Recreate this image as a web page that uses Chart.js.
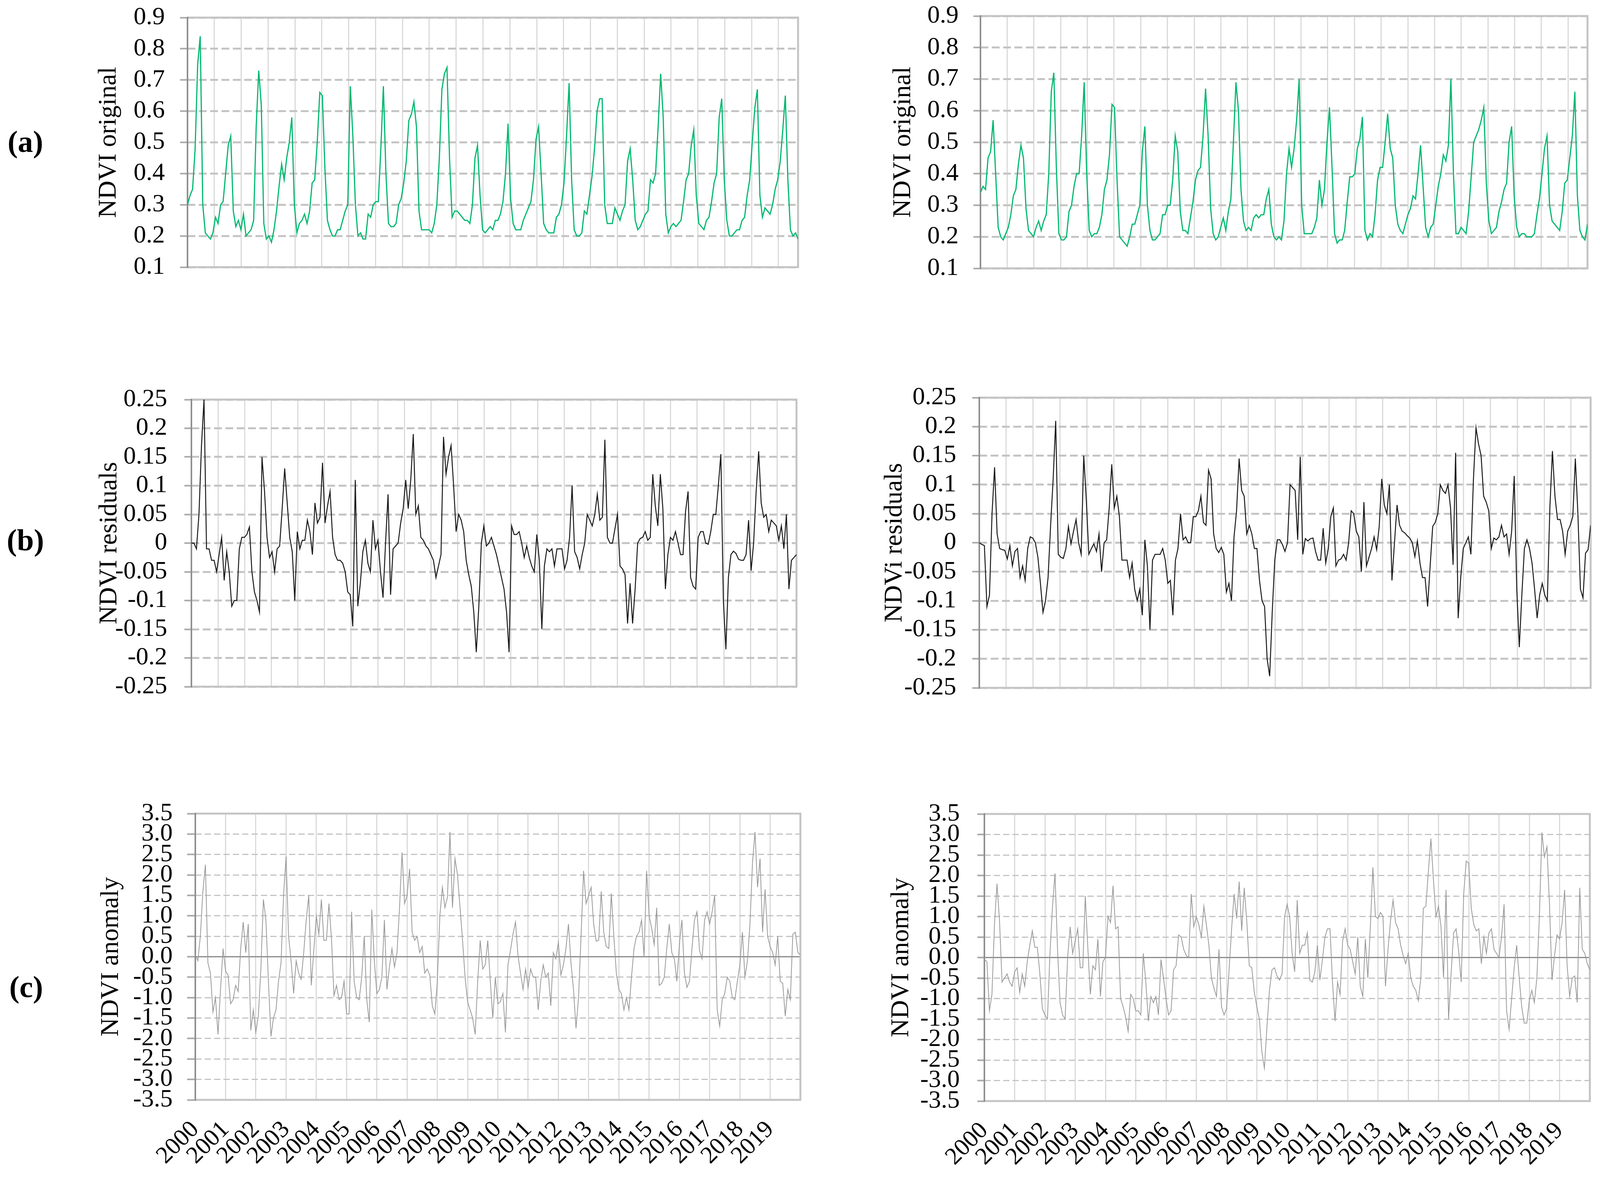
<!DOCTYPE html>
<html>
<head>
<meta charset="utf-8">
<script src="https://cdn.jsdelivr.net/npm/chart.js@4.4.1/dist/chart.umd.min.js"></script>
<style>
  body { margin: 0; background: #fff; width: 4142px; height: 3016px; position: relative; overflow: hidden; }
  canvas { position: absolute; }
  .tag { position: absolute; font: bold 78px "Liberation Serif", serif; color: #000; transform: translate(-50%, -50%); }
</style>
</head>
<body>
<script>
// monthly samples, Jan 2000 .. Dec 2019, plus the closing value at the right edge
var ndviOrigLeft = [
  0.30, 0.33, 0.35, 0.48, 0.75, 0.84, 0.30, 0.21, 0.20, 0.19, 0.21, 0.26,
  0.24, 0.30, 0.31, 0.40, 0.49, 0.52, 0.28, 0.23, 0.25, 0.22, 0.27, 0.20,
  0.21, 0.22, 0.25, 0.55, 0.73, 0.62, 0.24, 0.19, 0.20, 0.18, 0.22, 0.28,
  0.36, 0.43, 0.38, 0.45, 0.50, 0.58, 0.30, 0.21, 0.24, 0.25, 0.27, 0.24,
  0.28, 0.37, 0.38, 0.50, 0.66, 0.65, 0.42, 0.25, 0.22, 0.20, 0.20, 0.22,
  0.22, 0.25, 0.28, 0.30, 0.68, 0.52, 0.30, 0.20, 0.21, 0.19, 0.19, 0.27,
  0.26, 0.30, 0.31, 0.31, 0.48, 0.68, 0.40, 0.24, 0.23, 0.23, 0.24, 0.30,
  0.32, 0.37, 0.44, 0.57, 0.59, 0.63, 0.55, 0.28, 0.22, 0.22, 0.22, 0.22,
  0.21, 0.24, 0.30, 0.45, 0.67, 0.72, 0.74, 0.45, 0.26, 0.28, 0.28, 0.27,
  0.26, 0.25, 0.25, 0.24, 0.30, 0.45, 0.49, 0.33, 0.22, 0.21, 0.22, 0.23,
  0.22, 0.25, 0.25, 0.27, 0.31, 0.40, 0.56, 0.32, 0.24, 0.22, 0.22, 0.22,
  0.25, 0.27, 0.29, 0.31, 0.38, 0.51, 0.55, 0.40, 0.24, 0.22, 0.21, 0.21,
  0.21, 0.26, 0.27, 0.30, 0.37, 0.52, 0.69, 0.38, 0.22, 0.20, 0.20, 0.21,
  0.28, 0.27, 0.33, 0.39, 0.48, 0.60, 0.64, 0.64, 0.30, 0.24, 0.24, 0.24,
  0.29, 0.27, 0.25, 0.28, 0.30, 0.44, 0.48, 0.38, 0.25, 0.22, 0.23, 0.25,
  0.27, 0.28, 0.38, 0.37, 0.40, 0.55, 0.72, 0.58, 0.27, 0.21, 0.23, 0.24,
  0.23, 0.24, 0.25, 0.31, 0.38, 0.40, 0.49, 0.54, 0.33, 0.24, 0.23, 0.22,
  0.25, 0.26, 0.31, 0.37, 0.40, 0.58, 0.64, 0.38, 0.25, 0.20, 0.20, 0.21,
  0.22, 0.22, 0.25, 0.26, 0.33, 0.38, 0.50, 0.61, 0.67, 0.33, 0.26, 0.29,
  0.28, 0.27, 0.30, 0.35, 0.38, 0.44, 0.54, 0.65, 0.38, 0.22, 0.20, 0.21,
  0.19
];
var ndviOrigRight = [
  0.34, 0.36, 0.35, 0.45, 0.47, 0.57, 0.40, 0.23, 0.20, 0.19, 0.21, 0.23,
  0.27, 0.33, 0.35, 0.43, 0.49, 0.45, 0.29, 0.22, 0.21, 0.20, 0.23, 0.25,
  0.22, 0.25, 0.27, 0.40, 0.66, 0.72, 0.42, 0.21, 0.19, 0.19, 0.20, 0.28,
  0.30, 0.36, 0.40, 0.40, 0.52, 0.69, 0.40, 0.22, 0.20, 0.21, 0.21, 0.23,
  0.27, 0.35, 0.38, 0.46, 0.62, 0.61, 0.38, 0.20, 0.19, 0.18, 0.17, 0.20,
  0.24, 0.24, 0.27, 0.30, 0.47, 0.55, 0.30, 0.22, 0.19, 0.19, 0.20, 0.21,
  0.27, 0.27, 0.30, 0.30, 0.38, 0.52, 0.47, 0.28, 0.22, 0.22, 0.21, 0.26,
  0.31, 0.38, 0.41, 0.42, 0.52, 0.67, 0.52, 0.29, 0.21, 0.19, 0.20, 0.23,
  0.26, 0.22, 0.28, 0.32, 0.50, 0.69, 0.60, 0.35, 0.25, 0.22, 0.23, 0.22,
  0.26, 0.27, 0.26, 0.27, 0.27, 0.32, 0.35, 0.24, 0.20, 0.19, 0.20, 0.19,
  0.25, 0.40, 0.48, 0.42, 0.48, 0.57, 0.70, 0.30, 0.21, 0.21, 0.21, 0.21,
  0.23, 0.26, 0.38, 0.30, 0.35, 0.50, 0.61, 0.42, 0.21, 0.18, 0.19, 0.19,
  0.22, 0.31, 0.39, 0.39, 0.40, 0.48, 0.51, 0.58, 0.22, 0.19, 0.21, 0.20,
  0.27, 0.38, 0.42, 0.42, 0.50, 0.59, 0.48, 0.45, 0.30, 0.24, 0.22, 0.21,
  0.24, 0.27, 0.29, 0.33, 0.32, 0.40, 0.49, 0.36, 0.23, 0.20, 0.23, 0.24,
  0.30, 0.36, 0.40, 0.46, 0.44, 0.49, 0.70, 0.40, 0.21, 0.21, 0.23, 0.22,
  0.21, 0.28, 0.39, 0.50, 0.52, 0.54, 0.57, 0.61, 0.37, 0.25, 0.21, 0.22,
  0.23, 0.28, 0.31, 0.35, 0.37, 0.50, 0.55, 0.33, 0.23, 0.20, 0.21, 0.21,
  0.20, 0.20, 0.20, 0.21, 0.27, 0.32, 0.40, 0.48, 0.52, 0.30, 0.25, 0.24,
  0.23, 0.22, 0.28, 0.37, 0.38, 0.45, 0.52, 0.66, 0.33, 0.22, 0.20, 0.19,
  0.24
];
var ndviResLeft = [
  0.0, 0.0, -0.01, 0.05, 0.17, 0.25, -0.01, -0.01, -0.03, -0.03, -0.05, -0.02,
  0.01, -0.065, -0.015, -0.05, -0.11, -0.10, -0.10, -0.01, 0.01, 0.01, 0.015, 0.028,
  -0.05, -0.085, -0.10, -0.12, 0.15, 0.09, 0.01, -0.025, -0.015, -0.05, -0.01, -0.005,
  0.06, 0.13, 0.07, 0.01, -0.015, -0.10, 0.02, -0.01, 0.005, 0.005, 0.04, 0.02,
  -0.02, 0.07, 0.035, 0.045, 0.14, 0.035, 0.065, 0.09, 0.01, -0.02, -0.03, -0.03,
  -0.035, -0.05, -0.085, -0.09, -0.145, 0.11, -0.11, -0.07, -0.015, 0.005, -0.035, -0.05,
  0.04, -0.01, 0.005, -0.05, -0.095, 0.0, 0.085, -0.09, -0.01, -0.005, 0.0, 0.035,
  0.06, 0.11, 0.06, 0.11, 0.19, 0.05, 0.065, 0.01, 0.005, -0.005, -0.01, -0.02,
  -0.03, -0.06, -0.04, -0.02, 0.185, 0.12, 0.15, 0.17, 0.10, 0.02, 0.05, 0.04,
  0.02, -0.03, -0.055, -0.075, -0.12, -0.19, -0.11, 0.0, 0.03, -0.005, 0.0, 0.01,
  -0.005, -0.02, -0.04, -0.06, -0.08, -0.12, -0.19, 0.03, 0.015, 0.015, 0.02, 0.0,
  -0.025, -0.005, -0.025, -0.04, -0.05, 0.015, -0.03, -0.15, -0.04, -0.01, -0.015, -0.01,
  -0.04, -0.01, -0.01, -0.01, -0.045, -0.03, 0.01, 0.10, -0.015, -0.025, -0.045, -0.02,
  0.0, 0.05, 0.04, 0.03, 0.05, 0.085, 0.04, 0.045, 0.18, 0.01, 0.0, 0.0,
  0.025, 0.05, -0.04, -0.045, -0.055, -0.14, -0.07, -0.14, -0.08, 0.0, 0.008, 0.01,
  0.02, 0.005, 0.01, 0.12, 0.065, 0.03, 0.12, 0.06, -0.08, -0.02, 0.01, 0.005,
  0.02, 0.0, -0.02, -0.02, 0.055, 0.09, -0.06, -0.075, -0.08, 0.01, 0.02, 0.02,
  0.0, -0.002, 0.02, 0.05, 0.05, 0.10, 0.155, -0.10, -0.185, -0.06, -0.02, -0.014,
  -0.018, -0.028, -0.03, -0.03, -0.02, 0.04, -0.048, 0.0, 0.09, 0.16, 0.07, 0.045,
  0.05, 0.02, 0.04, 0.035, 0.03, 0.005, 0.03, -0.01, 0.05, -0.08, -0.03, -0.025,
  -0.02
];
var ndviResRight = [
  0.0, -0.003, -0.005, -0.11, -0.09, 0.05, 0.13, 0.015, -0.01, -0.012, -0.013, -0.028,
  -0.005, -0.04, -0.015, -0.01, -0.06, -0.04, -0.065, -0.01, 0.01, 0.008, 0.0, -0.025,
  -0.07, -0.12, -0.10, -0.06, 0.03, 0.11, 0.21, -0.02, -0.025, -0.027, -0.01, 0.028,
  -0.002, 0.02, 0.04, 0.0, -0.02, 0.15, 0.075, -0.02, -0.01, -0.002, -0.015, 0.015,
  -0.05, 0.0, 0.005, 0.06, 0.135, 0.06, 0.08, 0.045, -0.03, -0.03, -0.03, -0.06,
  -0.035, -0.08, -0.10, -0.08, -0.125, 0.005, -0.04, -0.15, -0.03, -0.02, -0.02, -0.02,
  -0.01, -0.03, -0.07, -0.065, -0.125, -0.03, -0.01, 0.05, 0.005, 0.01, 0.0, 0.0,
  0.045, 0.045, 0.055, 0.08, 0.035, 0.03, 0.125, 0.11, 0.015, -0.01, -0.017, -0.008,
  -0.02, -0.085, -0.07, -0.10, 0.01, 0.055, 0.145, 0.09, 0.08, 0.015, 0.03, 0.015,
  -0.01, -0.01, -0.065, -0.10, -0.11, -0.20, -0.23, -0.12, -0.03, 0.005, 0.005, -0.003,
  -0.015, 0.0, 0.10, 0.095, 0.09, 0.005, 0.148, -0.02, 0.007, 0.003, 0.007, 0.008,
  -0.015, -0.03, -0.03, 0.025, -0.035, -0.01, 0.045, 0.06, -0.04, -0.03, -0.028, -0.02,
  -0.03, 0.0, 0.055, 0.05, 0.02, 0.01, -0.05, 0.07, -0.04, -0.025, -0.01, 0.01,
  -0.012, 0.028, 0.11, 0.065, 0.05, 0.10, -0.065, 0.0, 0.065, 0.03, 0.02, 0.017,
  0.012, 0.008, 0.0, -0.024, 0.003, -0.035, -0.06, -0.06, -0.11, -0.04, 0.028, 0.035,
  0.05, 0.10, 0.09, 0.085, 0.10, 0.06, -0.038, 0.155, -0.13, -0.06, -0.01, 0.0,
  0.01, -0.02, 0.11, 0.198, 0.17, 0.15, 0.08, 0.07, 0.055, -0.01, 0.008, 0.005,
  0.01, 0.03, 0.01, 0.015, -0.02, 0.02, 0.115, -0.08, -0.18, -0.09, -0.01, 0.005,
  -0.01, -0.035, -0.08, -0.13, -0.09, -0.07, -0.09, -0.10, 0.06, 0.158, 0.08, 0.04,
  0.04, 0.02, -0.02, 0.02, 0.03, 0.045, 0.145, 0.05, -0.08, -0.095, -0.018, -0.012,
  0.03
];
var ndviAnomLeft = [
  0.05, -0.1, 0.5, 1.6, 2.25, -0.15, -0.4, -1.35, -1.0, -1.9, -0.8, 0.2,
  -0.35, -0.45, -1.15, -1.05, -0.7, -0.85, 0.2, 0.85, 0.1, 0.8, -1.8, -1.3,
  -1.85, -1.45, -0.3, 1.4, 0.9, -0.6, -1.95, -1.5, -1.3, -0.6, -0.15, 1.5,
  2.45, 0.5, -0.1, -0.9, -0.1, -0.4, -0.55, 0.1, 0.9, 1.5, -0.7, 0.15,
  1.0, 0.55, 1.4, 0.4, 0.4, 1.3, 0.45, -0.95, -0.7, -1.05, -1.0, -0.6,
  -1.4, -1.4, 1.1, -0.6, -1.0, -1.05, -0.5, 0.5, -1.05, -1.6, 1.15, -0.1,
  -0.9, -0.8, -0.5, 0.9, -0.8, -0.25, 0.2, -0.25, 0.1, 1.2, 2.55, 1.3,
  1.5, 2.15, 0.6, 0.4, 0.5, 0.1, 0.25, -0.4, -0.3, -0.45, -1.2, -1.4,
  -0.6, 1.0, 1.7, 1.2, 1.45, 3.05, 1.2, 2.4, 2.0, 1.2, 0.4, -0.5,
  -1.1, -1.3, -1.5, -1.9, -0.6, 0.4, -0.3, -0.2, 0.4, -0.6, -1.5, -0.5,
  -1.15, -1.1, -0.9, -1.85, -0.2, 0.15, 0.55, 0.85, 0.02, -0.4, -0.8, -0.3,
  -0.75, -0.3, -0.5, -0.5, -1.3, -0.6, -0.2, -0.5, -0.4, -1.2, 0.1, -0.05,
  0.35, -0.45, -0.2, 0.2, 0.8, -0.15, -0.8, -1.75, -1.0, 0.5, 2.1, 1.3,
  1.5, 1.7, 0.8, 0.38, 0.4, 1.6, 0.6, 0.25, 0.2, 1.55, 0.5, -0.4,
  -0.8, -0.9, -1.3, -1.0, -1.3, -0.5, 0.2, 0.5, 0.6, 0.9, 0.0, 2.1,
  1.0, 0.7, 0.3, 1.2, -0.7, -0.65, -0.5, 0.2, 0.8, 0.1, -0.05, -0.6,
  0.3, 0.9, -0.4, -0.75, -0.6, 0.2, 0.9, 1.1, 0.15, -0.05, 0.9, 1.1,
  0.8, 1.1, 1.5, -1.3, -1.7, -1.05, -0.9, -0.5, -0.6, -1.0, -1.05, -0.6,
  -0.2, 0.6, -0.5, -0.1, 0.8, 2.3, 3.05, 1.7, 2.4, 0.6, 1.65, 0.5,
  0.25, 0.1, -0.2, 0.5, -0.6, -0.65, -1.45, -0.8, -1.05, 0.55, 0.6, 0.1,
  0.05
];
var ndviAnomRight = [
  -0.05, -0.1, -1.3, -0.9, 0.8, 1.8, 0.9, -0.6, -0.5, -0.4, -0.6, -0.7,
  -0.35, -0.25, -0.85, -0.4, -0.7, -0.1, 0.3, 0.65, 0.25, 0.25, -0.4, -1.25,
  -1.4, -1.5, 0.1, 1.25, 2.05, 0.2, -1.1, -1.4, -1.5, 0.0, 0.75, 0.1,
  0.4, 0.7, -0.25, -0.25, 1.5, 0.25, -0.9, -0.2, -0.3, 0.45, -0.95, -0.1,
  0.0, 1.0, 0.85, 1.75, 0.7, 0.75, -1.0, -1.2, -1.45, -1.8, -0.9, -1.0,
  -1.3, -1.3, -1.4, 0.1, -0.6, -1.55, -0.95, -1.1, -0.95, -1.4, -0.05, -0.5,
  -1.0, -1.4, -1.3, -0.3, -0.2, 0.55, 0.5, 0.2, 0.05, 0.0, 1.55, 0.75,
  1.0, 0.8, 0.5, 1.25, 0.8, 0.3, -0.5, -0.75, -0.95, 0.2, -1.2, -1.4,
  -1.25, -0.3, 0.7, 1.55, 0.95, 1.85, 0.65, 1.7, 0.9, -0.2, -0.25, -0.85,
  -1.2, -1.5, -2.3, -2.7, -1.7, -0.8, -0.3, -0.25, -0.45, -0.55, -0.4, 1.0,
  1.3, 1.0, 0.1, -0.35, 1.4, 0.1, 0.3, 0.3, 0.6, -0.55, -0.6, -0.35,
  0.3, -0.55, -0.05, 0.5, 0.7, 0.7, -0.6, -1.55, -0.6, -0.9, 0.4, 0.7,
  0.3, 0.2, -0.1, -0.4, 0.5, -0.7, -0.95, 0.45, -0.5, 0.75, 2.2, 1.0,
  0.95, 1.1, 1.0, -0.7, 0.2, 0.9, 1.4, 0.85, 0.7, 0.3, 0.05, -0.15,
  0.1, -0.5, -0.7, -0.8, -1.05, -0.5, 1.2, 1.25, 2.1, 2.9, 1.9, 1.0,
  1.25, 0.75, -0.5, 1.65, -1.5, -0.4, 0.6, 0.7, 0.15, -0.6, 1.55, 2.35,
  2.3, 1.2, 0.8, 0.65, 0.7, -0.15, 0.5, 0.1, 0.6, 0.7, 0.2, 0.1,
  0.0, 0.5, 1.3, -1.3, -1.75, -1.0, -0.25, 0.3, -0.5, -1.2, -1.6, -1.6,
  -1.05, -0.8, -1.1, -0.5, 1.0, 3.05, 2.45, 2.7, 1.3, -0.55, 0.05, 0.55,
  0.45, 0.85, 1.65, -0.2, -0.95, -0.5, -0.45, -1.1, 1.7, 0.2, 0.1, -0.15,
  -0.3
];
var firstYear = 2000;
var yearCount = 20;
var samplesPerYear = 12;

// the photograph only keeps 4096 px of the 4142 px width, so squeeze x a little
var sx = 4096 / 4142;
var serif = '"Liberation Serif", "Times New Roman", serif';

function toPoints(values) {
  return values.map(function(v, i) { return {x: i / samplesPerYear, y: v}; });
}

// top, right and bottom edges light grey, value axis darker
var frame = {
  id: 'frame',
  beforeDatasetsDraw: function(chart) {
    var a = chart.chartArea, ctx = chart.ctx;
    ctx.save();
    ctx.lineWidth = 5;
    ctx.strokeStyle = '#c4c4c4';
    ctx.beginPath();
    ctx.moveTo(a.left, a.top);
    ctx.lineTo(a.right, a.top);
    ctx.lineTo(a.right, a.bottom);
    ctx.lineTo(a.left, a.bottom);
    ctx.stroke();
    ctx.lineWidth = 4;
    ctx.strokeStyle = '#8f8f8f';
    ctx.beginPath();
    ctx.moveTo(a.left, a.top - 2);
    ctx.lineTo(a.left, a.bottom + 2);
    ctx.stroke();
    ctx.restore();
  }
};

var tags = [
  {text: '(a)', x: 66, y: 363},
  {text: '(b)', x: 66, y: 1383},
  {text: '(c)', x: 68, y: 2527}
];
tags.forEach(function(t) {
  var d = document.createElement('div');
  d.className = 'tag';
  d.textContent = t.text;
  d.style.left = Math.round(t.x * sx) + 'px';
  d.style.top = t.y + 'px';
  document.body.appendChild(d);
});

// positions are measured on the reference (x before squeezing)
var panels = [
  {id: 'aL', left: 0, top: 0, w: 2200, h: 760, values: ndviOrigLeft, color: '#00b86e', lw: 3,
   min: 0.1, max: 0.9, step: 0.1, digits: 1, title: 'NDVI original', titleX: 282,
   axisW: 485, tickLen: 19, tickPad: 39, padTop: 45, padRight: 134, padBottom: 76, years: false},
  {id: 'aR', left: 2200, top: 0, w: 1942, h: 760, values: ndviOrigRight, color: '#00b86e', lw: 3,
   min: 0.1, max: 0.9, step: 0.1, digits: 1, title: 'NDVI original', titleX: 139,
   axisW: 338, tickLen: 18, tickPad: 38, padTop: 41, padRight: 32, padBottom: 73, years: false},
  {id: 'bL', left: 0, top: 960, w: 2200, h: 840, values: ndviResLeft, color: '#1a1a1a', lw: 2.5,
   min: -0.25, max: 0.25, step: 0.05, digits: -1, title: 'NDVI residuals', titleX: 284,
   axisW: 495, tickLen: 18, tickPad: 44, padTop: 63, padRight: 139, padBottom: 42, years: false},
  {id: 'bR', left: 2200, top: 960, w: 1942, h: 840, values: ndviResRight, color: '#1a1a1a', lw: 2.5,
   min: -0.25, max: 0.25, step: 0.05, digits: -1, title: 'NDVi residuals', titleX: 116,
   axisW: 335, tickLen: 18, tickPad: 41, padTop: 58, padRight: 24, padBottom: 39, years: false},
  {id: 'cL', left: 0, top: 2030, w: 2200, h: 986, values: ndviAnomLeft, color: '#9a9a9a', lw: 2,
   min: -3.5, max: 3.5, step: 0.5, digits: 1, title: 'NDVI anomaly', titleX: 288,
   axisW: 506, tickLen: 21, tickPad: 37, padTop: 53, padRight: 128, padBottom: 0, years: true, xH: 200},
  {id: 'cR', left: 2200, top: 2030, w: 1942, h: 986, values: ndviAnomRight, color: '#9a9a9a', lw: 2,
   min: -3.5, max: 3.5, step: 0.5, digits: 1, title: 'NDVI anomaly', titleX: 133,
   axisW: 348, tickLen: 18, tickPad: 45, padTop: 54, padRight: 26, padBottom: 0, years: true, xH: 197}
];

panels.forEach(function(p) {
  var w = Math.round(p.w * sx);
  var canvas = document.createElement('canvas');
  canvas.id = p.id;
  canvas.width = w;
  canvas.height = p.h;
  canvas.style.left = Math.round(p.left * sx) + 'px';
  canvas.style.top = p.top + 'px';
  canvas.style.width = w + 'px';
  canvas.style.height = p.h + 'px';
  document.body.appendChild(canvas);

  var xAxis = {
    type: 'linear',
    min: 0,
    max: yearCount,
    border: {display: false},
    grid: {
      drawTicks: false,
      lineWidth: 3,
      color: function(c) {
        var v = c.tick ? c.tick.value : 0;
        return (v <= 0 || v >= yearCount) ? 'rgba(0,0,0,0)' : '#dadada';
      }
    },
    afterFit: function(s) {
      s.height = p.years ? p.xH : 0;
      s.paddingLeft = 0;
      s.paddingRight = 0;
    }
  };
  if (p.years) {
    xAxis.ticks = {
      stepSize: 1,
      autoSkip: false,
      minRotation: 45,
      maxRotation: 45,
      padding: 40,
      color: '#000',
      font: {family: serif, size: 62},
      callback: function(v) { return v < yearCount ? String(firstYear + v) : ''; }
    };
  } else {
    // Excel-style category ticks: one grid line every 20 composites
    xAxis.ticks = {display: false, stepSize: 0.88};
  }

  new Chart(canvas, {
    type: 'line',
    data: {
      datasets: [{
        data: toPoints(p.values),
        borderColor: p.color,
        borderWidth: p.lw,
        pointRadius: 0,
        tension: 0,
        fill: false
      }]
    },
    options: {
      responsive: false,
      animation: false,
      devicePixelRatio: 1,
      layout: {padding: {top: p.padTop, right: Math.round(p.padRight * sx), bottom: p.padBottom, left: 0}},
      plugins: {legend: {display: false}, tooltip: {enabled: false}},
      scales: {
        x: xAxis,
        y: {
          min: p.min,
          max: p.max,
          border: {
            display: false,
            dash: function(c) {
              if (p.years) return (c.tick && c.tick.value === 0) ? [] : [16, 8];
              return [20, 9];
            }
          },
          grid: {
            lineWidth: function(c) { return p.years ? 3 : 5; },
            color: function(c) { return (p.years && c.tick && c.tick.value === 0) ? '#8a8a8a' : '#c4c4c4'; },
            tickLength: Math.round(p.tickLen * sx),
            tickColor: '#a8a8a8',
            tickWidth: 4
          },
          ticks: {
            stepSize: p.step,
            autoSkip: false,
            padding: Math.round(p.tickPad * sx),
            color: '#000',
            font: {family: serif, size: 64},
            callback: function(v) {
              if (p.digits > 0) return v.toFixed(p.digits);
              return String(Math.round(v * 100) / 100);
            }
          },
          title: {
            display: true,
            text: p.title,
            color: '#000',
            font: {family: serif, size: 66, lineHeight: 1},
            padding: {top: Math.round(p.titleX * sx) - 33, bottom: 0}
          },
          afterFit: function(s) {
            s.width = Math.round(p.axisW * sx);
            s.paddingTop = 0;
            s.paddingBottom = 0;
          }
        }
      }
    },
    plugins: [frame]
  });
});
</script>
</body>
</html>
